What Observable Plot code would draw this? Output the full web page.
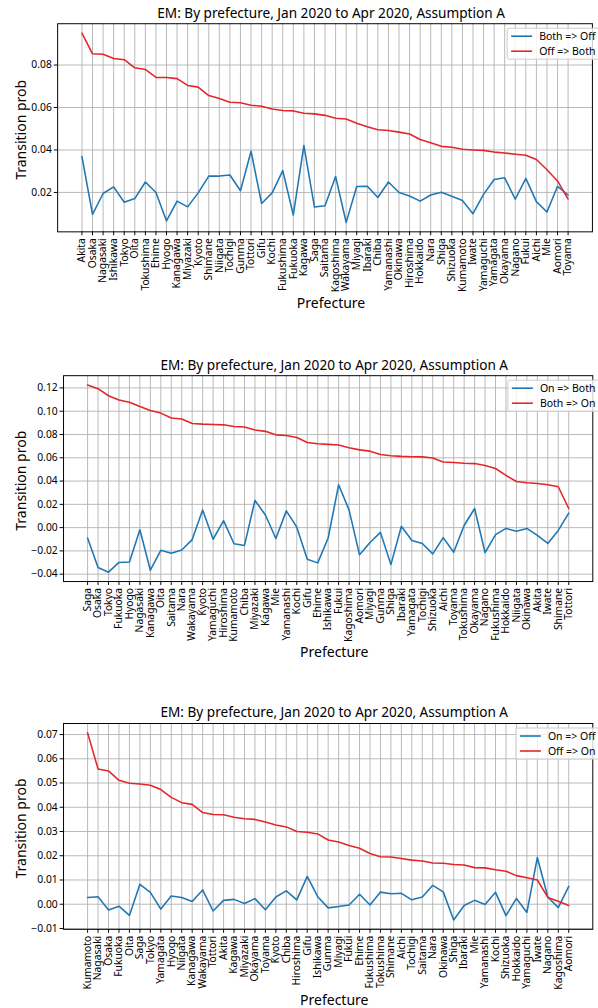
<!DOCTYPE html>
<html><head><meta charset="utf-8">
<script src="https://cdn.jsdelivr.net/npm/d3@7"></script>
<script src="https://cdn.jsdelivr.net/npm/@observablehq/plot@0.6"></script>
<style>
html,body{margin:0;padding:0;background:#fff;width:598px;height:1008px;overflow:hidden;}
#root{position:relative;width:598px;height:1008px;overflow:hidden;}
.panel{position:absolute;left:0;}
#overlay{position:absolute;left:0;top:0;}
</style></head><body><div id="root"></div>
<script>
// ---------- DATA ----------
const title = "EM: By prefecture, Jan 2020 to Apr 2020, Assumption A";
const xLabel = "Prefecture";
const yLabel = "Transition prob";

// Panel 1
const prefs1 = ["Akita","Osaka","Nagasaki","Ishikawa","Tokyo","Oita","Tokushima","Ehime","Hyogo","Kanagawa","Miyazaki","Kyoto","Shimane","Niigata","Tochigi","Gunma","Tottori","Gifu","Kochi","Fukushima","Fukuoka","Kagawa","Saga","Saitama","Kagoshima","Wakayama","Miyagi","Ibaraki","Chiba","Yamanashi","Okinawa","Hiroshima","Hokkaido","Nara","Shiga","Shizuoka","Kumamoto","Iwate","Yamaguchi","Yamagata","Okayama","Nagano","Fukui","Aichi","Mie","Aomori","Toyama"];
const bothToOff = [0.0369,0.0097,0.0195,0.0226,0.0154,0.0171,0.0249,0.0200,0.0066,0.0159,0.0132,0.0198,0.0277,0.0277,0.0282,0.0208,0.0394,0.0148,0.0198,0.0303,0.0094,0.0421,0.0131,0.0137,0.0275,0.0059,0.0228,0.0229,0.0176,0.0249,0.0200,0.0183,0.0159,0.0188,0.0201,0.0182,0.0162,0.0100,0.0191,0.0261,0.0269,0.0168,0.0266,0.0157,0.0108,0.0229,0.0188];
const offToBoth = [0.0950,0.0853,0.0851,0.0831,0.0825,0.0787,0.0779,0.0742,0.0741,0.0736,0.0704,0.0696,0.0656,0.0642,0.0625,0.0622,0.0611,0.0606,0.0593,0.0586,0.0584,0.0573,0.0570,0.0563,0.0549,0.0546,0.0526,0.0509,0.0495,0.0492,0.0484,0.0475,0.0449,0.0434,0.0417,0.0413,0.0403,0.0400,0.0398,0.0390,0.0386,0.0380,0.0375,0.0355,0.0307,0.0254,0.0169];
const ticks1 = [0.02,0.04,0.06,0.08];

// Panel 2
const prefs2 = ["Saga","Osaka","Tokyo","Fukuoka","Hyogo","Nagasaki","Kanagawa","Oita","Saitama","Nara","Wakayama","Kyoto","Yamaguchi","Hiroshima","Kumamoto","Chiba","Miyazaki","Kagawa","Mie","Yamanashi","Kochi","Gifu","Ehime","Ishikawa","Fukui","Kagoshima","Aomori","Miyagi","Gunma","Shiga","Ibaraki","Yamagata","Tochigi","Shizuoka","Aichi","Toyama","Tokushima","Okayama","Nagano","Fukushima","Hokkaido","Niigata","Okinawa","Akita","Iwate","Shimane","Tottori"];
const onToBoth = [-0.0089,-0.0343,-0.0383,-0.0299,-0.0296,-0.0018,-0.0366,-0.0195,-0.0220,-0.0192,-0.0103,0.0152,-0.0100,0.0060,-0.0139,-0.0153,0.0234,0.0108,-0.0094,0.0144,0.0004,-0.0271,-0.0303,-0.0089,0.0368,0.0150,-0.0234,-0.0128,-0.0041,-0.0318,0.0012,-0.0111,-0.0136,-0.0226,-0.0086,-0.0212,0.0018,0.0164,-0.0215,-0.0060,-0.0007,-0.0032,-0.0007,-0.0066,-0.0136,-0.0024,0.0124];
const bothToOn = [0.1225,0.1194,0.1133,0.1096,0.1077,0.1040,0.1007,0.0984,0.0942,0.0934,0.0895,0.0889,0.0886,0.0883,0.0869,0.0864,0.0839,0.0827,0.0797,0.0791,0.0774,0.0732,0.0720,0.0715,0.0710,0.0687,0.0668,0.0657,0.0629,0.0617,0.0612,0.0609,0.0608,0.0598,0.0564,0.0559,0.0553,0.0550,0.0533,0.0508,0.0449,0.0396,0.0385,0.0379,0.0368,0.0351,0.0164];
const ticks2 = [-0.04,-0.02,0,0.02,0.04,0.06,0.08,0.10,0.12];

// Panel 3
const prefs3 = ["Kumamoto","Nagasaki","Osaka","Fukuoka","Oita","Saga","Tokyo","Yamagata","Hyogo","Niigata","Kanagawa","Wakayama","Tottori","Akita","Kagawa","Miyazaki","Okayama","Toyama","Kyoto","Chiba","Hiroshima","Gifu","Ishikawa","Gunma","Miyagi","Fukui","Ehime","Fukushima","Tokushima","Shimane","Aichi","Tochigi","Saitama","Nara","Okinawa","Shiga","Ibaraki","Mie","Yamanashi","Kochi","Shizuoka","Hokkaido","Yamaguchi","Iwate","Nagano","Kagoshima","Aomori"];
const onToOff = [0.0028,0.0031,-0.0024,-0.0008,-0.0046,0.0082,0.0049,-0.0020,0.0034,0.0028,0.0011,0.0059,-0.0028,0.0016,0.0020,0.0003,0.0023,-0.0023,0.0030,0.0055,0.0018,0.0115,0.0031,-0.0015,-0.0009,-0.0003,0.0041,-0.0003,0.0050,0.0043,0.0045,0.0018,0.0030,0.0078,0.0051,-0.0065,-0.0005,0.0016,-0.0001,0.0049,-0.0047,0.0024,-0.0034,0.0193,0.0030,-0.0014,0.0074];
const offToOn = [0.0707,0.0558,0.0550,0.0511,0.0499,0.0496,0.0491,0.0473,0.0441,0.0419,0.0412,0.0378,0.0370,0.0369,0.0359,0.0353,0.0350,0.0339,0.0327,0.0319,0.0300,0.0297,0.0290,0.0265,0.0257,0.0242,0.0231,0.0209,0.0196,0.0195,0.0189,0.0182,0.0178,0.0170,0.0169,0.0164,0.0162,0.0151,0.0150,0.0142,0.0136,0.0118,0.0109,0.0100,0.0028,0.0012,-0.0005];
const ticks3 = [-0.01,0,0.01,0.02,0.03,0.04,0.05,0.06,0.07];

const BLUE = "#1f77b4", RED = "#e3262a";
const FONT = '"Noto Sans","DejaVu Sans",sans-serif';

const panels = [
  {prefs: prefs1, a: bothToOff, b: offToBoth, names: ["Both => Off","Off => Both"], ticks: ticks1,
   top: 0, ft: 23.7, fh: 212.3, fl: 58.3, fr: 603.8},
  {prefs: prefs2, a: onToBoth, b: bothToOn, names: ["On => Both","Both => On"], ticks: ticks2,
   top: 350, ft: 375.7, fh: 210, fl: 64.3, fr: 604.2},
  {prefs: prefs3, a: onToOff, b: offToOn, names: ["On => Off","Off => On"], ticks: ticks3,
   top: 698, ft: 723.5, fh: 210, fl: 64.3, fr: 604.2}
];

const root = document.getElementById("root");
const W = 610, MB = 72;

for (const p of panels) {
  const rowsA = p.prefs.map((k, i) => ({pref: k, v: p.a[i]}));
  const rowsB = p.prefs.map((k, i) => ({pref: k, v: p.b[i]}));
  const [lo, hi] = d3.extent(p.a.concat(p.b));
  const pad = (hi - lo) * 0.05;
  const mt = p.ft - p.top;
  const chart = Plot.plot({
    width: W, height: mt + p.fh + MB,
    marginTop: mt, marginBottom: MB, marginLeft: p.fl, marginRight: W - p.fr,
    style: {fontFamily: FONT, fontSize: "10.5px", color: "#000", background: "transparent", overflow: "visible"},
    x: {type: "point", domain: p.prefs, padding: 2.3, label: null},
    y: {domain: [lo - pad, hi + pad], label: null},
    marks: [
      Plot.gridX({stroke: "#b0b0b0", strokeOpacity: 1, strokeWidth: 0.9}),
      Plot.gridY(p.ticks, {stroke: "#b0b0b0", strokeOpacity: 1, strokeWidth: 0.9}),
      Plot.axisX({tickRotate: -90, tickSize: 4, tickPadding: 2.5, label: null}),
      Plot.axisY(p.ticks, {tickFormat: d3.format(".2f"), tickSize: 3.5, tickPadding: 2.5, label: null}),
      Plot.lineY(rowsA, {x: "pref", y: "v", stroke: BLUE, strokeWidth: 1.6}),
      Plot.lineY(rowsB, {x: "pref", y: "v", stroke: RED, strokeWidth: 1.6}),
      Plot.frame({stroke: "#000", strokeWidth: 1})
    ]
  });
  chart.classList.add("panel");
  chart.style.top = p.top + "px";
  root.appendChild(chart);
}

// ---------- overlay: titles, axis labels, legends ----------
const svg = d3.select(root).append("svg").attr("id", "overlay")
  .attr("width", 598).attr("height", 1008)
  .style("font-family", FONT);

for (const p of panels) {
  const cx = (p.fl + p.fr) / 2;
  const fb = p.ft + p.fh;
  svg.append("text").attr("x", cx).attr("y", p.ft - 6.2)
    .attr("text-anchor", "middle").attr("font-size", 13.6).attr("fill", "#000").text(title);
  svg.append("text").attr("x", cx).attr("y", fb + 71.5)
    .attr("text-anchor", "middle").attr("font-size", 14).attr("fill", "#000").text(xLabel);
  svg.append("text").attr("transform", `translate(20,${p.ft + p.fh / 2}) rotate(-90)`)
    .attr("text-anchor", "middle").attr("dominant-baseline", "central")
    .attr("font-size", 14).attr("fill", "#000").text(yLabel);
  // legend, anchored to the upper right like matplotlib's
  const lt = p.ft + 4.5;
  const g = svg.append("g");
  const rect = g.append("rect");
  const texts = [];
  [[BLUE, p.names[0], 8], [RED, p.names[1], 23]].forEach(([c, t, dy]) => {
    const ln = g.append("line").attr("y1", lt + dy).attr("y2", lt + dy)
      .attr("stroke", c).attr("stroke-width", 1.6);
    const tx = g.append("text").attr("y", lt + dy).attr("dominant-baseline", "central")
      .attr("font-size", 10.5).attr("fill", "#000").text(t);
    texts.push([ln, tx]);
  });
  const maxW = d3.max(texts, ([, tx]) => tx.node().getComputedTextLength());
  const textX = 595.5 - maxW;
  const ll = textX - 32;
  texts.forEach(([ln, tx]) => { ln.attr("x1", ll + 4).attr("x2", ll + 25); tx.attr("x", textX); });
  rect.attr("x", ll).attr("y", lt).attr("width", 100).attr("height", 31)
    .attr("rx", 2).attr("fill", "#fff").attr("fill-opacity", 0.8).attr("stroke", "#cccccc");
}
</script></body></html>
